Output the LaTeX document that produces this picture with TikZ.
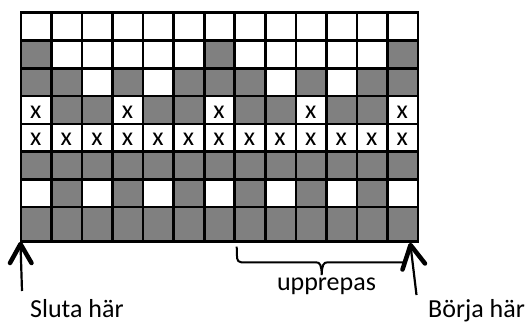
\documentclass[tikz,border=0pt]{standalone}
\usepackage{fontspec}
\setmainfont{Carlito}
\definecolor{cellgray}{HTML}{808080}
\begin{document}
\begin{tikzpicture}[x=1pt,y=-1pt,
  gridline/.style={line width=2.6pt,black,line cap=rect},
  cellx/.style={font=\fontsize{26}{26}\selectfont,anchor=base,inner sep=0pt},
  lbl/.style={font=\fontsize{26}{30}\selectfont,inner sep=0pt},
  shaft/.style={line width=2.2pt,black},
  head/.style={line width=4.5pt,black,line cap=round,line join=round},
  bracestyle/.style={line width=2pt,black}]
\useasboundingbox (0,0) rectangle (531,322);
\fill[white] (0,0) rectangle (531,322);
% cells
\foreach \r/\yt/\yb/\pat in {
  1/12.7/40.7/{0,0,0,0,0,0,0,0,0,0,0,0,0},
  2/40.7/68.3/{1,0,0,0,0,0,1,0,0,0,0,0,1},
  3/68.3/96/{1,1,0,1,0,1,1,1,0,1,0,1,1},
  4/96/124/{2,1,1,2,1,1,2,1,1,2,1,1,2},
  5/124/151.7/{2,2,2,2,2,2,2,2,2,2,2,2,2},
  6/151.7/179.3/{1,1,1,1,1,1,1,1,1,1,1,1,1},
  7/179.3/207/{0,1,0,1,0,1,0,1,0,1,0,1,0},
  8/207/241.5/{1,1,1,1,1,1,1,1,1,1,1,1,1}}{
  \foreach \v [count=\c] in \pat {
    \pgfmathsetmacro\xl{21+30.54*(\c-1)}
    \pgfmathsetmacro\xr{21+30.54*\c}
    \ifnum\v=1 \fill[cellgray] (\xl,\yt) rectangle (\xr,\yb);\fi
    \ifnum\v=2 \node[cellx] (x-\r-\c) at (\xl+14.8,\yb-5.8) {x};\fi
  }
}
% grid lines
\foreach \c in {0,...,13}{
  \draw[gridline] (21+30.54*\c,12.7) -- (21+30.54*\c,241.5);
}
\foreach \y in {12.7,40.7,68.3,96,124,151.7,179.3,207,241.5}{
  \draw[gridline] (21,\y) -- (418,\y);
}
% brace
\draw[bracestyle,rounded corners=4pt] (236.7,246.7) -- (237.2,262.3) -- (316,262.3);
\draw[bracestyle] (316,262.3) .. controls (320,262.3) and (321.5,265) .. (321.7,275)
  .. controls (322,265) and (323.5,262.3) .. (327.5,262.3) -- (405,262.3);
% left arrow
\coordinate (lt) at (20.5,244);
\coordinate (lb) at (22,291);
\coordinate (la) at (10,263);
\coordinate (lc) at (31.5,263);
\draw[shaft] (lb) -- (lt);
\draw[head] (la) -- (lt) -- (lc);
% right arrow
\coordinate (rt) at (410.5,245);
\coordinate (rb) at (416.5,295);
\coordinate (ra) at (402.5,269.5);
\coordinate (rc) at (425,263.5);
\draw[shaft] (rb) -- (rt);
\draw[head] (ra) -- (rt) -- (rc);
% labels
\node[lbl,anchor=base west] (sluta) at (30,317) {Sluta här};
\node[lbl,anchor=base west] (borja) at (428,317) {Börja här};
\node[lbl,anchor=base] (upp) at (326.5,290) {upprepas};
\end{tikzpicture}
\end{document}
